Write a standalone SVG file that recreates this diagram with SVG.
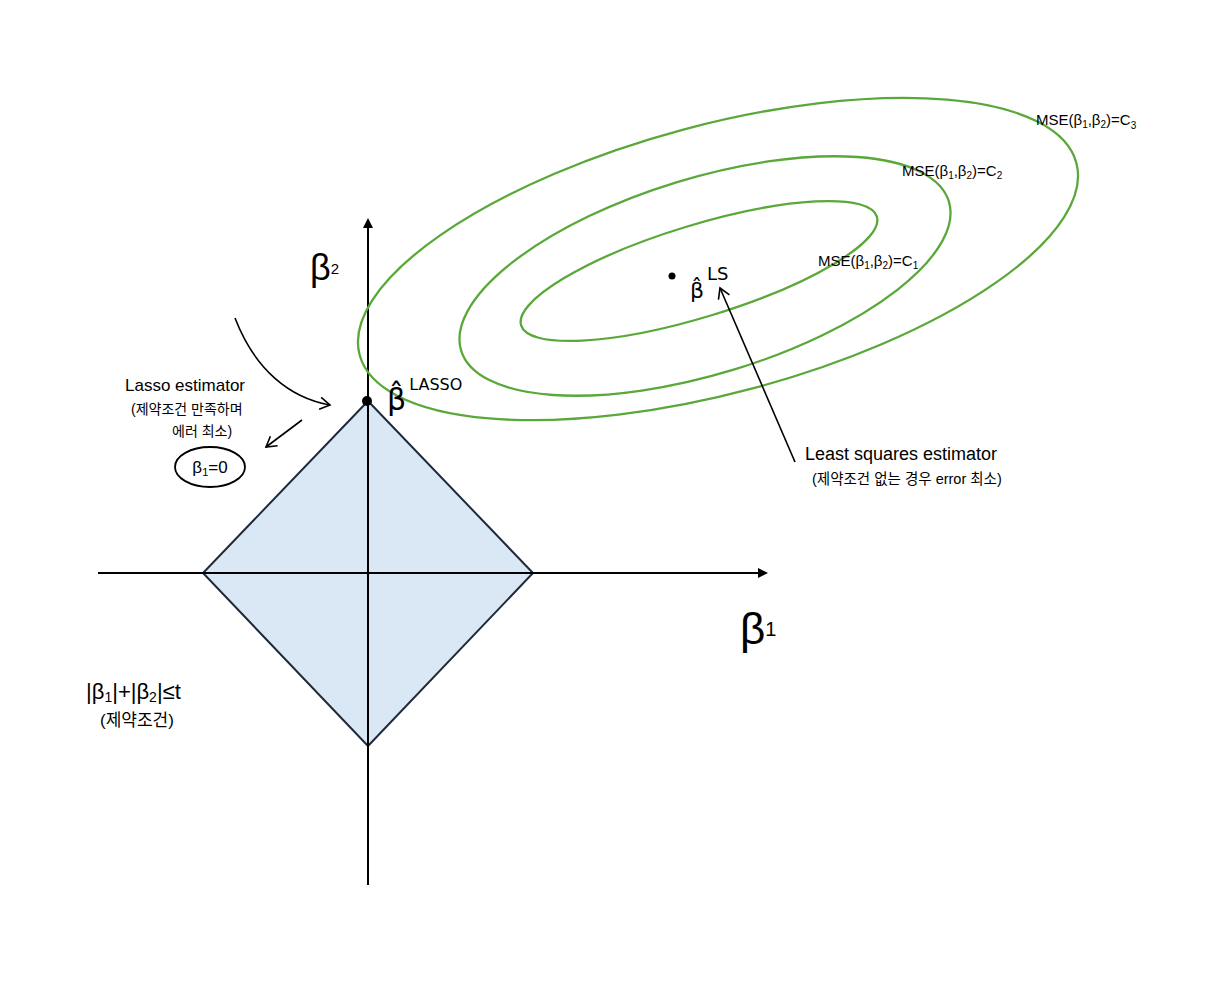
<svg xmlns="http://www.w3.org/2000/svg" width="1221" height="1000" viewBox="0 0 1221 1000">
<style>
.ax{stroke:#000;stroke-width:2;fill:none}
.ell{stroke:#5aa83a;stroke-width:2.3;fill:none}
.t{font-family:"Liberation Sans","Noto Sans CJK KR",sans-serif;fill:#000}
.h{font-family:"DejaVu Sans",sans-serif;fill:#000}
.ln{stroke:#000;stroke-width:1.6;fill:none}
</style>
<defs>
<marker id="ah" markerWidth="10" markerHeight="10" refX="8" refY="5" orient="auto" markerUnits="userSpaceOnUse">
<path d="M0,0 L10,5 L0,10 z" fill="#000"/>
</marker>
<marker id="oh" markerWidth="14" markerHeight="14" refX="12" refY="7" orient="auto" markerUnits="userSpaceOnUse">
<path d="M2,1 L12,7 L2,13" fill="none" stroke="#000" stroke-width="1.6"/>
</marker>
</defs>
<rect width="1221" height="1000" fill="#fff"/>
<g id="constraint">
<polygon points="368,401 533,573 368,746 203,573" fill="#dae8f6" stroke="#1e2a3a" stroke-width="2"/>
</g>
<g id="axes">
<line class="ax" x1="98" y1="573" x2="766" y2="573" marker-end="url(#ah)"/>
<line class="ax" x1="368" y1="885" x2="368" y2="220" marker-end="url(#ah)"/>
</g>
<g id="contours">
<ellipse class="ell" cx="718" cy="259" rx="371" ry="134" transform="rotate(-15 718 259)"/>
<ellipse class="ell" cx="705" cy="276" rx="255" ry="98" transform="rotate(-17 705 276)"/>
<ellipse class="ell" cx="699" cy="271" rx="186" ry="46" transform="rotate(-17 699 271)"/>
</g>
<g id="points">
<circle cx="367" cy="401" r="5" fill="#000"/>
<circle cx="672" cy="276" r="3.5" fill="#000"/>
</g>
<g id="connectors">
<path class="ln" d="M235,318 C255,370 290,398 330,405" marker-end="url(#oh)"/>
<path class="ln" d="M302,420 L266,447" marker-end="url(#oh)"/>
<path class="ln" d="M795,462 L720,288" marker-end="url(#oh)"/>
</g>
<g id="labels">
<text class="t" x="310" y="280" font-size="36">β<tspan font-size="15" dy="-6">2</tspan></text>
<text class="t" x="740" y="644" font-size="44">β<tspan font-size="20" dy="-8">1</tspan></text>
<text class="h" x="387" y="410" font-size="30">β̂<tspan font-size="16" dy="-20" dx="3">LASSO</tspan></text>
<text class="h" x="690" y="298" font-size="22">β̂<tspan font-size="18" dy="-18" dx="3">LS</tspan></text>
<text class="t" x="1036" y="125" font-size="15">MSE(β<tspan font-size="10" dy="3">1</tspan><tspan dy="-3">,β</tspan><tspan font-size="10" dy="3">2</tspan><tspan dy="-3">)=C</tspan><tspan font-size="10" dy="4">3</tspan></text>
<text class="t" x="902" y="176" font-size="15">MSE(β<tspan font-size="10" dy="3">1</tspan><tspan dy="-3">,β</tspan><tspan font-size="10" dy="3">2</tspan><tspan dy="-3">)=C</tspan><tspan font-size="10" dy="3">2</tspan></text>
<text class="t" x="818" y="266" font-size="15">MSE(β<tspan font-size="10" dy="3">1</tspan><tspan dy="-3">,β</tspan><tspan font-size="10" dy="3">2</tspan><tspan dy="-3">)=C</tspan><tspan font-size="10" dy="3">1</tspan></text>
<text class="t" x="125" y="391" font-size="17">Lasso estimator</text>
<text class="t" x="131" y="414" font-size="14">(제약조건 만족하며</text>
<text class="t" x="172" y="436" font-size="14">에러 최소)</text>
<ellipse cx="210" cy="467" rx="35" ry="20" fill="none" stroke="#000" stroke-width="1.8"/>
<text class="t" x="210" y="473" font-size="17" text-anchor="middle">β<tspan font-size="11" dy="3">1</tspan><tspan dy="-3">=0</tspan></text>
<text class="t" x="805" y="460" font-size="18">Least squares estimator</text>
<text class="t" x="812" y="484" font-size="14.5">(제약조건 없는 경우 error 최소)</text>
<text class="t" x="86" y="699" font-size="22">|β<tspan font-size="14" dy="3">1</tspan><tspan dy="-3">|+|β</tspan><tspan font-size="14" dy="3">2</tspan><tspan dy="-3">|≤t</tspan></text>
<text class="t" x="100" y="726" font-size="17">(제약조건)</text>
</g>
</svg>
